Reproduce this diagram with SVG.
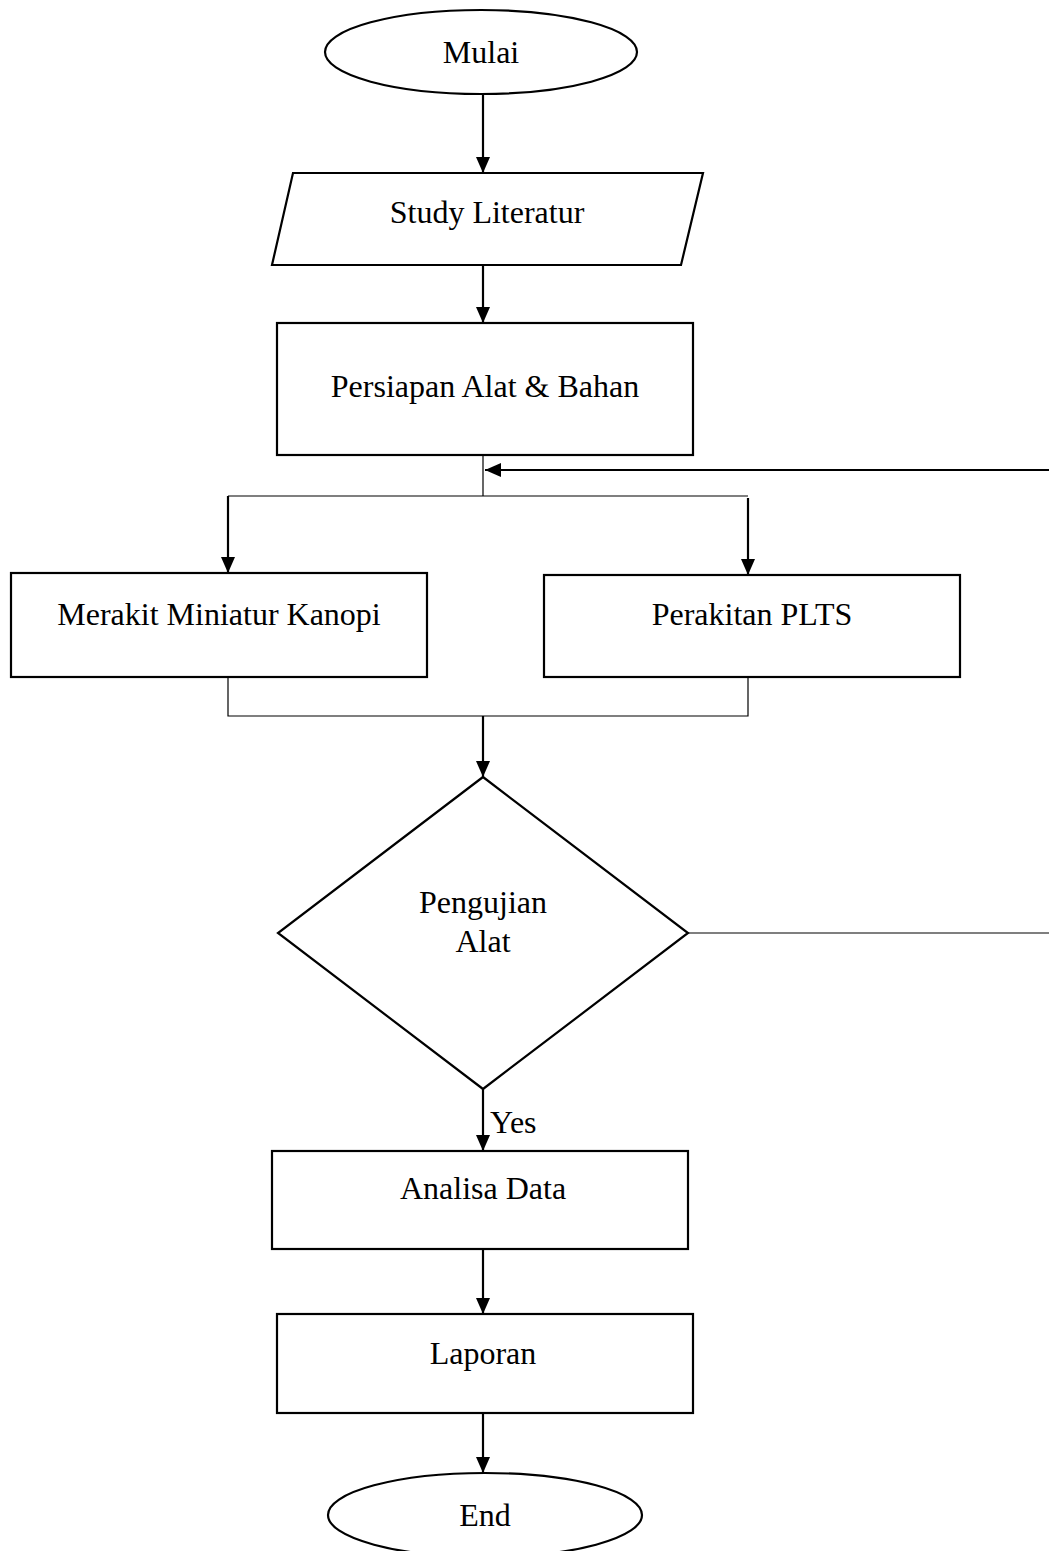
<svg xmlns="http://www.w3.org/2000/svg" width="1049" height="1551" viewBox="0 0 1049 1551">
<style>
.shape{fill:#fff;stroke:#000;stroke-width:2.2}
.lbl{font-family:"Liberation Serif","Times New Roman",serif;font-size:32px;fill:#000;text-anchor:middle}
.arrow{fill:none;stroke:#000;stroke-width:2.2}
.thin{fill:none;stroke:#000;stroke-width:1.2}
</style>
<defs>
<marker id="ah" markerUnits="userSpaceOnUse" markerWidth="16" markerHeight="16" viewBox="0 0 16 16" refX="16" refY="8" orient="auto">
<path d="M0,1 L16,8 L0,15 Z" fill="#000"/>
</marker>
</defs>
<rect width="1049" height="1551" fill="#fff"/>
<g id="connectors">
<line class="arrow" x1="483" y1="94" x2="483" y2="173" marker-end="url(#ah)"/>
<line class="arrow" x1="483" y1="265" x2="483" y2="323" marker-end="url(#ah)"/>
<polyline class="thin" points="483,455 483,496"/>
<polyline class="thin" points="228,496 748,496"/>
<line class="arrow" x1="228" y1="496" x2="228" y2="573" marker-end="url(#ah)"/>
<line class="arrow" x1="748" y1="498" x2="748" y2="575" marker-end="url(#ah)"/>
<line class="arrow" x1="1049" y1="470" x2="485" y2="470" marker-end="url(#ah)"/>
<polyline class="thin" points="228,677 228,716 748,716 748,677"/>
<line class="arrow" x1="483" y1="716" x2="483" y2="777" marker-end="url(#ah)"/>
<polyline class="thin" points="688,933 1049,933"/>
<line class="arrow" x1="483" y1="1089" x2="483" y2="1151" marker-end="url(#ah)"/>
<text class="lbl" x="490" y="1133" text-anchor="start" style="text-anchor:start">Yes</text>
<line class="arrow" x1="483" y1="1249" x2="483" y2="1314" marker-end="url(#ah)"/>
<line class="arrow" x1="483" y1="1413" x2="483" y2="1473" marker-end="url(#ah)"/>
</g>
<g id="mulai">
<ellipse class="shape" cx="481" cy="52" rx="156" ry="42"/>
<text class="lbl" x="481" y="63">Mulai</text>
</g>
<g id="study">
<polygon class="shape" points="293,173 703,173 681,265 272,265"/>
<text class="lbl" x="487" y="223">Study Literatur</text>
</g>
<g id="persiapan">
<rect class="shape" x="277" y="323" width="416" height="132"/>
<text class="lbl" x="485" y="397">Persiapan Alat &amp; Bahan</text>
</g>
<g id="merakit">
<rect class="shape" x="11" y="573" width="416" height="104"/>
<text class="lbl" x="219" y="625">Merakit Miniatur Kanopi</text>
</g>
<g id="perakitan">
<rect class="shape" x="544" y="575" width="416" height="102"/>
<text class="lbl" x="752" y="625">Perakitan PLTS</text>
</g>
<g id="pengujian">
<polygon class="shape" points="483,777 688,933 483,1089 278,933"/>
<text class="lbl" x="483" y="913">Pengujian</text>
<text class="lbl" x="483" y="952">Alat</text>
</g>
<g id="analisa">
<rect class="shape" x="272" y="1151" width="416" height="98"/>
<text class="lbl" x="483" y="1199">Analisa Data</text>
</g>
<g id="laporan">
<rect class="shape" x="277" y="1314" width="416" height="99"/>
<text class="lbl" x="483" y="1364">Laporan</text>
</g>
<g id="end">
<ellipse class="shape" cx="485" cy="1515" rx="157" ry="42"/>
<text class="lbl" x="485" y="1526">End</text>
</g>
</svg>
